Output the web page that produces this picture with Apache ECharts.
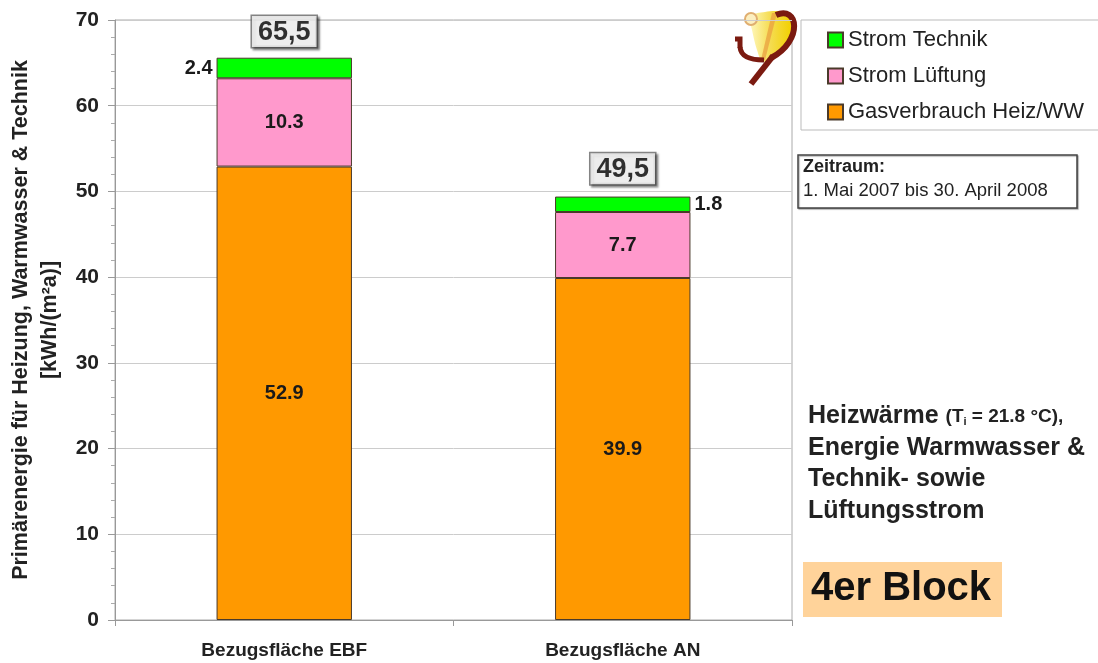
<!DOCTYPE html>
<html><head><meta charset="utf-8">
<script src="https://cdn.jsdelivr.net/npm/echarts@6/dist/echarts.min.js"></script>
<style>html,body{margin:0;padding:0;background:#fff}#c{width:1098px;height:663px}</style>
</head><body><div id="c"></div>
<script>
var categories = ['Bezugsfläche EBF', 'Bezugsfläche AN'];
var gasHeizWW = [52.9, 39.9];
var stromLueftung = [10.3, 7.7];
var stromTechnik = [2.4, 1.8];
var totals = [65.5, 49.5];
var totalLabels = ['65,5', '49,5'];
var technikLabelSide = ['left', 'right'];
var yTicks = [0, 10, 20, 30, 40, 50, 60, 70];

var FONT = '"Liberation Sans", Arial, sans-serif';
var chart = echarts.init(document.getElementById('c'));
var border = {borderColor: '#4a3a2a', borderWidth: 1};
var inLabel = {show: true, position: 'inside', color: '#1a1a1a', fontWeight: 'bold', fontSize: 20, fontFamily: FONT};

chart.setOption({
  animation: false,
  textStyle: {fontFamily: FONT},
  grid: {left: 115, right: 306, top: 20, bottom: 43, containLabel: false, outerBoundsMode: 'none',
         show: true, borderColor: '#aaa', borderWidth: 1},
  legend: {
    orient: 'vertical', left: 801, top: 20,
    padding: [9, 60, 7, 26], itemGap: 14, itemWidth: 15, itemHeight: 15,
    borderColor: '#bbb', borderWidth: 1,
    textStyle: {fontSize: 22, color: '#222', fontFamily: FONT},
    data: [
      {name: 'Strom Technik', icon: 'rect'},
      {name: 'Strom Lüftung', icon: 'rect'},
      {name: 'Gasverbrauch Heiz/WW', icon: 'rect'}
    ]
  },
  xAxis: {
    type: 'category', data: categories,
    axisLine: {lineStyle: {color: '#999'}},
    axisTick: {show: true, length: 6, lineStyle: {color: '#999'}},
    axisLabel: {color: '#222', fontWeight: 'bold', fontSize: 19, margin: 21, fontFamily: FONT}
  },
  yAxis: {
    type: 'value', min: yTicks[0], max: yTicks[yTicks.length - 1], interval: 10,
    name: 'Primärenergie für Heizung, Warmwasser & Technik\n[kWh/(m²a)]',
    nameLocation: 'middle', nameGap: 49, nameRotate: 90,
    nameTextStyle: {fontSize: 21.5, lineHeight: 29, color: '#222', fontWeight: 'bold', fontFamily: FONT},
    axisLine: {show: true, lineStyle: {color: '#999'}},
    axisTick: {show: true, length: 7, lineStyle: {color: '#999'}},
    minorTick: {show: true, splitNumber: 5, length: 4, lineStyle: {color: '#aaa'}},
    splitLine: {lineStyle: {color: '#ccc'}},
    axisLabel: {color: '#222', fontWeight: 'bold', fontSize: 21, margin: 16, fontFamily: FONT}
  },
  series: [
    {name: 'Gasverbrauch Heiz/WW', type: 'bar', stack: 's', barWidth: '40%',
     itemStyle: Object.assign({color: '#FF9900'}, border), label: inLabel, data: gasHeizWW},
    {name: 'Strom Lüftung', type: 'bar', stack: 's',
     itemStyle: Object.assign({color: '#FF99CC'}, border), label: inLabel, data: stromLueftung},
    {name: 'Strom Technik', type: 'bar', stack: 's',
     itemStyle: Object.assign({color: '#00FF00'}, border),
     label: {show: true, color: '#1a1a1a', fontWeight: 'bold', fontSize: 20, fontFamily: FONT, distance: 4},
     data: stromTechnik.map(function (v, i) { return {value: v, label: {position: technikLabelSide[i]}}; })},
    {name: 'Summe', type: 'scatter', symbolSize: 1, itemStyle: {color: 'rgba(0,0,0,0)'},
     label: {show: true, position: 'top', distance: 11,
       formatter: function (p) { return totalLabels[p.dataIndex]; },
       color: '#000', fontWeight: 'bold', fontSize: 27, fontFamily: FONT,
       backgroundColor: '#fff', borderColor: '#666', borderWidth: 1.5, padding: [3, 6, 1, 6],
       shadowColor: 'rgba(0,0,0,0.45)', shadowOffsetX: 2, shadowOffsetY: 2, shadowBlur: 2},
     data: totals}
  ],
  graphic: [
    // logo
    {type: 'polygon', shape: {points: [[750,16],[765,12],[782,12],[791,22],[789,38],[778,52],[763,62],[757,50],[752,30]], smooth: 0.3},
     style: {fill: new echarts.graphic.LinearGradient(0, 0, 1, 0, [{offset: 0, color: '#FFF8C0'}, {offset: 0.5, color: '#F5DC50'}, {offset: 1, color: '#F2D000'}])}},
    {type: 'polygon', shape: {points: [[772,13],[777,13],[765,60],[761,60]]}, style: {fill: '#E9A040', opacity: 0.75}},
    {type: 'circle', shape: {cx: 751, cy: 19, r: 6}, style: {fill: '#FCEFC0', stroke: '#E0AE70', lineWidth: 2}},
    {type: 'bezierCurve', shape: {x1: 776, y1: 15, cpx1: 798, cpy1: 5, cpx2: 804, cpy2: 40, x2: 771, y2: 58},
     style: {fill: 'none', stroke: '#7B1A10', lineWidth: 6}},
    {type: 'line', shape: {x1: 773, y1: 56, x2: 751, y2: 84}, style: {stroke: '#7B1A10', lineWidth: 6}},
    {type: 'polyline', shape: {points: [[735,39],[740,39],[740,48]]}, style: {fill: 'none', stroke: '#7B1A10', lineWidth: 5}},
    {type: 'bezierCurve', shape: {x1: 740, y1: 47, cpx1: 741, cpy1: 57, cpx2: 750, cpy2: 60, x2: 764, y2: 60},
     style: {fill: 'none', stroke: '#7B1A10', lineWidth: 5}},
    // Zeitraum box
    {type: 'rect', shape: {x: 798, y: 155, width: 279, height: 53},
     style: {fill: '#fff', stroke: '#444', lineWidth: 1.5, shadowColor: 'rgba(0,0,0,0.3)', shadowOffsetX: 1, shadowOffsetY: 1, shadowBlur: 1}},
    {type: 'text', left: 803, top: 158, style: {text: 'Zeitraum:', font: 'bold 18px ' + FONT, fill: '#222'}},
    {type: 'text', left: 803, top: 181, style: {text: '1. Mai 2007 bis 30. April 2008', font: '18.5px ' + FONT, fill: '#222'}},
    // description
    {type: 'text', left: 808, top: 404, style: {
      text: '{a|Heizwärme }{b|(T}{s|i}{b| = 21.8 °C),}',
      rich: {a: {font: 'bold 25px ' + FONT, fill: '#222'}, b: {font: 'bold 19px ' + FONT, fill: '#222'},
             s: {font: 'bold 11px ' + FONT, fill: '#222', padding: [11, 0, 0, 0]}}}},
    {type: 'text', left: 808, top: 436, style: {text: 'Energie Warmwasser &', font: 'bold 25px ' + FONT, fill: '#222'}},
    {type: 'text', left: 808, top: 467, style: {text: 'Technik- sowie', font: 'bold 25px ' + FONT, fill: '#222'}},
    {type: 'text', left: 808, top: 499, style: {text: 'Lüftungsstrom', font: 'bold 25px ' + FONT, fill: '#222'}},
    {type: 'rect', shape: {x: 803, y: 562, width: 199, height: 55}, style: {fill: '#FFD39A'}},
    {type: 'text', left: 811, top: 569, style: {text: '4er Block', font: 'bold 40px ' + FONT, fill: '#111'}}
  ]
});
</script></body></html>
